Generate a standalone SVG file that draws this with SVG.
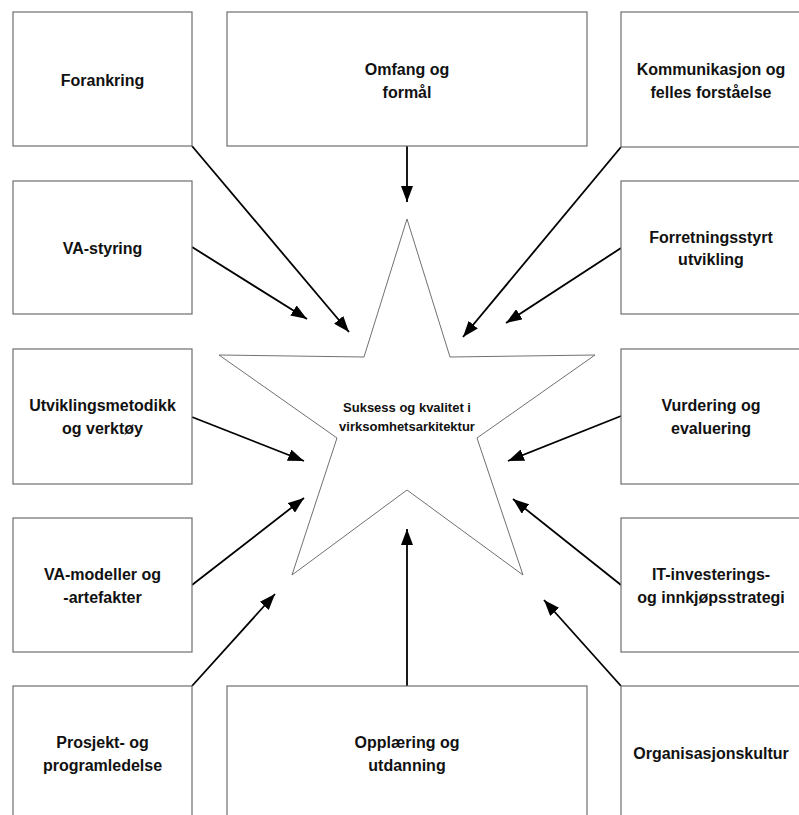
<svg xmlns="http://www.w3.org/2000/svg" width="799" height="815" viewBox="0 0 799 815">
<style>
.box{fill:#fff;stroke:#6e6e6e;stroke-width:1.2}
.t{font-family:"Liberation Sans",Arial,sans-serif;font-weight:bold;font-size:16px;fill:#111;text-anchor:middle;dominant-baseline:central}
.st{font-family:"Liberation Sans",Arial,sans-serif;font-weight:bold;font-size:13px;fill:#111;text-anchor:middle;dominant-baseline:central}
.c{stroke:#000;stroke-width:1.8;fill:none;marker-end:url(#ah)}
</style>
<defs>
<marker id="ah" markerUnits="userSpaceOnUse" markerWidth="17" markerHeight="12" refX="16" refY="6" orient="auto">
<path d="M0,0 L16,6 L0,12 z" fill="#000"/>
</marker>
</defs>
<rect width="799" height="815" fill="#fff"/>
<g id="star">
<polygon points="407,219 450,357 595,355 477,438 523,575 407,490 292,575 337,438 219,355 364,357" fill="#fff" stroke="#707070" stroke-width="1"/>
<text class="st" x="407" y="407">Suksess og kvalitet i</text>
<text class="st" x="407" y="426">virksomhetsarkitektur</text>
</g>
<g id="connectors">
<line class="c" x1="192" y1="146" x2="349" y2="332"/>
<line class="c" x1="407" y1="146" x2="407" y2="202"/>
<line class="c" x1="621" y1="147" x2="463" y2="337"/>
<line class="c" x1="192" y1="247" x2="307" y2="319"/>
<line class="c" x1="621" y1="248" x2="506" y2="323"/>
<line class="c" x1="192" y1="417" x2="304" y2="461"/>
<line class="c" x1="621" y1="416" x2="508" y2="461"/>
<line class="c" x1="192" y1="585" x2="304" y2="498"/>
<line class="c" x1="621" y1="585" x2="513" y2="499"/>
<line class="c" x1="192" y1="686" x2="275" y2="594"/>
<line class="c" x1="407" y1="686" x2="407" y2="529"/>
<line class="c" x1="621" y1="686" x2="544" y2="600"/>
</g>
<g id="forankring"><rect class="box" x="13" y="12" width="179" height="134"/><text class="t" x="102.5" y="80">Forankring</text></g>
<g id="omfang"><rect class="box" x="227" y="12" width="360" height="134"/><text class="t" x="407" y="69">Omfang og</text><text class="t" x="407" y="92">formål</text></g>
<g id="kommunikasjon"><rect class="box" x="621" y="12" width="190" height="135"/><text class="t" x="711" y="69">Kommunikasjon og</text><text class="t" x="711" y="92">felles forståelse</text></g>
<g id="va-styring"><rect class="box" x="13" y="181" width="179" height="133"/><text class="t" x="102.5" y="248">VA-styring</text></g>
<g id="forretningsstyrt"><rect class="box" x="621" y="181" width="190" height="133"/><text class="t" x="711" y="237">Forretningsstyrt</text><text class="t" x="711" y="259">utvikling</text></g>
<g id="utviklingsmetodikk"><rect class="box" x="13" y="349" width="179" height="135"/><text class="t" x="102.5" y="405">Utviklingsmetodikk</text><text class="t" x="102.5" y="428">og verktøy</text></g>
<g id="vurdering"><rect class="box" x="621" y="349" width="190" height="135"/><text class="t" x="711" y="405">Vurdering og</text><text class="t" x="711" y="428">evaluering</text></g>
<g id="va-modeller"><rect class="box" x="13" y="518" width="179" height="134"/><text class="t" x="102.5" y="574">VA-modeller og</text><text class="t" x="102.5" y="597">-artefakter</text></g>
<g id="it-investering"><rect class="box" x="621" y="518" width="190" height="134"/><text class="t" x="711" y="574">IT-investerings-</text><text class="t" x="711" y="597">og innkjøpsstrategi</text></g>
<g id="prosjekt"><rect class="box" x="13" y="686" width="179" height="140"/><text class="t" x="102.5" y="742">Prosjekt- og</text><text class="t" x="102.5" y="765">programledelse</text></g>
<g id="opplaering"><rect class="box" x="227" y="686" width="360" height="140"/><text class="t" x="407" y="742">Opplæring og</text><text class="t" x="407" y="765">utdanning</text></g>
<g id="organisasjonskultur"><rect class="box" x="621" y="686" width="190" height="140"/><text class="t" x="711" y="753">Organisasjonskultur</text></g>
</svg>
